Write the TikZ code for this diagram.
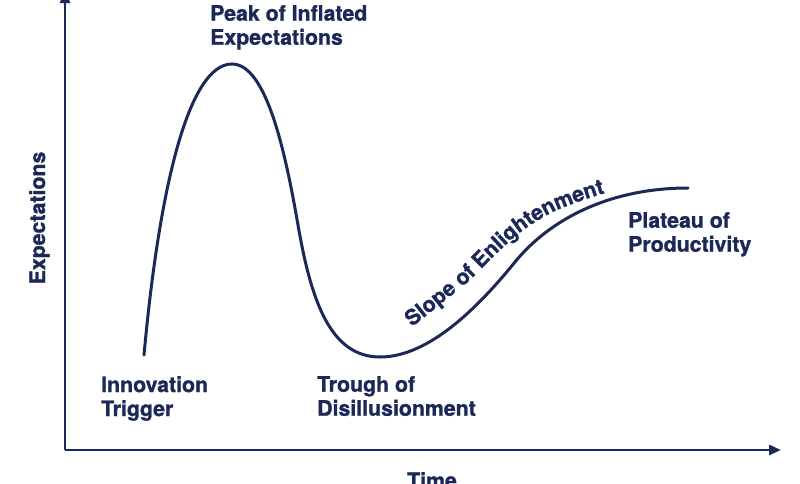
\documentclass[tikz,border=0pt]{standalone}
\usepackage{fontspec}
\setmainfont{TeX Gyre Heros}[BoldFeatures={FakeBold=1.2}]
\usetikzlibrary{arrows.meta,decorations.text}
\definecolor{navy}{RGB}{28,40,88}
\newcommand{\lblfont}{\fontsize{21.3}{24}\selectfont\bfseries}
\begin{document}
\begin{tikzpicture}[x=1pt,y=-1pt,
  lbl/.style={anchor=north west, inner sep=0pt, align=left, text=navy, font=\lblfont},
  axislbl/.style={inner sep=0pt, text=navy, font=\lblfont},
  axisline/.style={draw=navy, line width=2.8pt, -{Triangle[length=12pt,width=10pt]}},
  hype/.style={draw=navy, line width=3pt, line cap=round}]
\useasboundingbox (0,0) rectangle (800,483);
\fill[white] (0,0) rectangle (800,483);
% axes
\coordinate (O) at (65,450);
\coordinate (xend) at (781,450);
\coordinate (ytop) at (65,-9);
\draw[axisline] (O) -- (xend);
\draw[axisline] (O) -- (ytop);
% hype curve
\coordinate (start) at (144,355);
\coordinate (peak) at (232,64);
\coordinate (fall) at (298,225);
\coordinate (trough) at (380,357);
\coordinate (rise) at (515,262);
\coordinate (plateau) at (688,188);
\draw[hype] (start) .. controls (160,180) and (190,64) .. (peak)
  .. controls (266,64) and (285,150) .. (fall)
  .. controls (311,300) and (330,357) .. (trough)
  .. controls (430,357) and (480,305) .. (rise)
  .. controls (550,219) and (610,188) .. (plateau);
% slope label along a path
\path[decorate, decoration={text along path, text align=left,
  text={|\color{navy}\lblfont|Slope of Enlightenment}}]
  plot[smooth, tension=0.5] coordinates {(412,327) (442,303) (470,280) (495,255) (522,231) (555,211) (602,194) (640,188)};
% labels
\node[lbl] (peaklbl) at (210,5) {Peak of Inflated\\Expectations};
\node[lbl] (trig) at (101,376) {Innovation\\Trigger};
\node[lbl] (troughlbl) at (317,376) {Trough of\\Disillusionment};
\node[lbl] (plat) at (628,212) {Plateau of\\Productivity};
\node[axislbl, anchor=base] (time) at (432,488) {Time};
\node[axislbl, anchor=base, rotate=90] (expect) at (45,218) {Expectations};
\end{tikzpicture}
\end{document}
